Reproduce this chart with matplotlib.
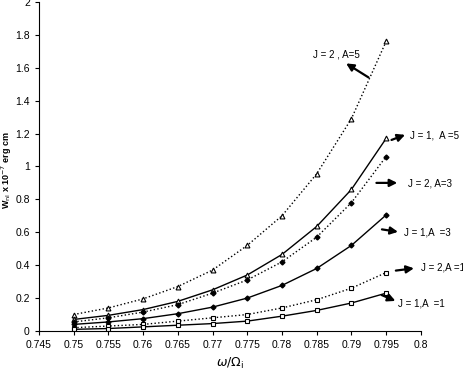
import matplotlib.pyplot as plt

# frequency ratio
x = [0.75, 0.755, 0.76, 0.765, 0.77, 0.775, 0.78, 0.785, 0.79, 0.795]

# W_nl values (x 1e-7 erg cm)
j2_a5 = [0.10, 0.14, 0.195, 0.27, 0.37, 0.52, 0.70, 0.955, 1.29, 1.76]
j1_a5 = [0.07, 0.095, 0.13, 0.18, 0.25, 0.34, 0.465, 0.635, 0.86, 1.17]
j2_a3 = [0.055, 0.08, 0.115, 0.16, 0.23, 0.31, 0.42, 0.57, 0.78, 1.06]
j1_a3 = [0.04, 0.055, 0.075, 0.105, 0.145, 0.20, 0.277, 0.38, 0.52, 0.705]
j2_a1 = [0.02, 0.03, 0.04, 0.06, 0.08, 0.10, 0.14, 0.19, 0.26, 0.355]
j1_a1 = [0.01, 0.015, 0.025, 0.035, 0.045, 0.06, 0.09, 0.125, 0.17, 0.23]

labels = ['J = 2 , A=5', 'J = 1,  A =5', 'J = 2, A=3', 'J = 1,A  =3', 'J = 2,A =1', 'J = 1,A  =1']

plt.rcParams['font.family'] = ['Liberation Sans', 'DejaVu Sans']

fig = plt.figure(figsize=(4.63, 3.74), dpi=100)
ax = fig.add_axes([0.084, 0.115, 0.825, 0.88])

k = dict(color='black', markersize=3.5, lw=1.0)
ax.plot(x, j2_a5, ls=':', marker='^', mfc='white', mew=0.8, **k)
ax.plot(x, j1_a5, ls='-', marker='^', mfc='white', mew=0.8, **k)
ax.plot(x, j2_a3, ls=':', marker='D', markersize=2.5, color='black', lw=1.0, mfc='black')
ax.plot(x, j1_a3, ls='-', marker='D', markersize=2.5, color='black', lw=1.0, mfc='black')
ax.plot(x, j2_a1, ls=':', marker='s', mfc='white', mew=0.8, **k)
ax.plot(x, j1_a1, ls='-', marker='s', mfc='white', mew=0.8, **k)

ax.set_xlim(0.745, 0.8)
ax.set_ylim(0, 2)
ax.set_xticks([0.745, 0.75, 0.755, 0.76, 0.765, 0.77, 0.775, 0.78, 0.785, 0.79, 0.795, 0.8])
ax.set_xticklabels(['0.745', '0.75', '0.755', '0.76', '0.765', '0.77', '0.775', '0.78', '0.785', '0.79', '0.795', '0.8'])
ax.set_yticks([0, 0.2, 0.4, 0.6, 0.8, 1, 1.2, 1.4, 1.6, 1.8, 2])
ax.set_yticklabels(['0', '0.2', '0.4', '0.6', '0.8', '1', '1.2', '1.4', '1.6', '1.8', '2'])
ax.tick_params(labelsize=7.5, direction='out', length=3, width=0.8)
ax.spines['top'].set_visible(False)
ax.spines['right'].set_visible(False)

ax.set_xlabel(r'$\omega/\Omega_{\rm i}$', fontsize=9)
ax.set_ylabel(r'W$_{\rm nl}$ x 10$^{-7}$ erg cm', fontsize=6.5, fontweight='bold')
ax.yaxis.set_label_coords(-0.066, 0.49)

# text position, arrow tail, arrow head
ann = [
    ((0.7845, 1.678), (0.7928, 1.532), (0.7889, 1.635)),
    ((0.7984, 1.19), (0.7954, 1.155), (0.7981, 1.198)),
    ((0.7981, 0.894), (0.7932, 0.90), (0.7970, 0.90)),
    ((0.7976, 0.596), (0.7940, 0.62), (0.7971, 0.60)),
    ((0.8000, 0.383), (0.7960, 0.365), (0.7994, 0.383)),
    ((0.7967, 0.17), (0.7940, 0.225), (0.7967, 0.176)),
]
for lab, (tp, tail, head) in zip(labels, ann):
    ax.annotate('', xy=head, xytext=tail,
                arrowprops=dict(arrowstyle='-|>', lw=1.6, color='black', mutation_scale=11))
    ax.text(tp[0], tp[1], lab, fontsize=7, va='center', ha='left', clip_on=False)

fig.savefig('out.png', dpi=100)
